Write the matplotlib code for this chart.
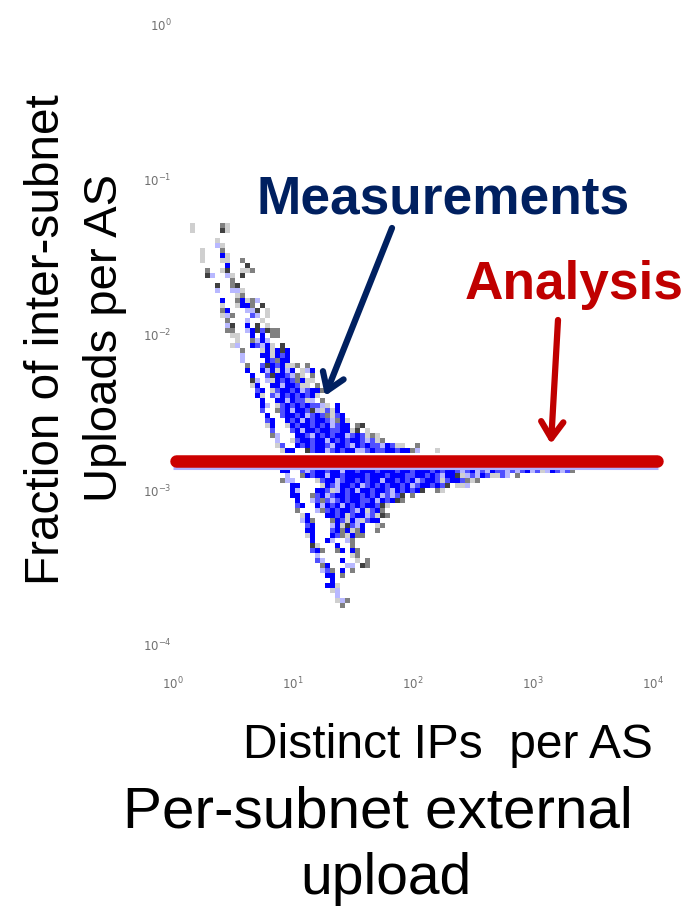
import numpy as np
import matplotlib
matplotlib.use("Agg")
import matplotlib.pyplot as plt
from matplotlib.colors import ListedColormap

CELLS_TOP = [
 (0,"S     GS"),(0,"S     KS"),(0,""),(5,"S"),(5,"PS"),(2,"S   G"),(2,"S   BS"),(2,"S   SS  G"),
 (7,"B   K"),(3,"G  SK  SSG"),(3,"KP  PS K"),(8,"G"),(5,"K  GK"),(5,"P  PPS"),(9,"SG"),
 (6,"B  GBSGP"),(6,"S  SBBG K"),(6,"GB   PPK S"),(6,"SPG   LP S"),(7,"G   P  S"),
 (7,"PK  B K S"),(7,"GG  PBKLKGG"),(8,"SS  B B GG"),(9,"S  GPBP"),(8,"SP  BLPBS K"),
]
CELLS_MID = [
 (10,"G   SBSBKB"),(10,"P   BBSBLB"),(10,"P    BLGBB"),(11,"G  LKBLBSSG G"),(11,"B  BPBSBPB SPB"),
 (12,"B  LKBBLPGS G"),(12,"KP PSBLBLGBSS"),(12,"SB  BBPBBLSS G"),(13,"LB SLBBLBPLBBG"),
 (13,"BS LPBLBLBLBS"),(14,"B  BBPBLLSP G"),(14,"BP SLBLBLBLLPS B"),(14,"L  GLBPBBLKPSLSB"),
 (15,"B  LBBLBPLBLGSLB"),(15,"LB  BLBPBLBBLPGBS"),(15,"SB  SBLBBLBLBPLBB GK"),
 (16,"L   LBPBBLBBLLBBSK S"),(16,"GP   BBLPBLBLBBPLBLSGS"),(17,"P  SLBBLBBPBLBLBBLPLSG"),
 (17,"SL  BLBLBBLPBBLPBLBLLPBLSS  G"),(18,"SBB  KLBBPLBLBBPPLBLLBBLBBGP   S"),
 (0,""),(0,""),(0,""),
]
CELLS_LOW = [
 (18,"BB  LPLBBLBBPBBLBBBLBBBLBBLBBBLBLBBLPLBPLPBLLPLPLBPLSPBLPLG"),
 (19,"P  GBLBBPBBLBBBBLBBBLBBBLLBBLBLPBBKSPLPBLSSLP G"),
 (18,"GPP    SLBBPLBBLBLBBPBBLBLBPLBBLSLBBLGSG"),
 (20,"BB    SBLPBBLBPLBLBLBBLBPLBBLBLK SSP"),
 (20,"BP   BBLSPBLBPBBLBBLPBLBLBK  GS"),
 (20,"BB  GLBPLBBLBBLBLBPLPLK G"),
 (21,"B  PLGLPLBLBBLLBPBLBKG"),
 (21,"LB  BPBLBPBLBLBBLKS"),
 (21,"G   PGLBLBBLPBSLBG"),
 (22,"SB   BBLBSLBBPLSKG"),
 (22,"PBG   GBLSBPSLBB"),
 (23,"LB   PBSKLPB  SG"),
 (23,"BB   LBGBSGB  G"),
 (23,"SB   BLGSBGG"),
 (24,"B  BP  PG"),
 (24,"KS   B  G"),
 (24,"LBG  GB BG"),
 (25,"P      SG"),
 (25,"LP   B  S G"),
 (26,"GB   PP KG"),
 (26,"PLG B G"),
 (27,"BB G"),
 (28,"B"),
 (27,"BBS"),
 (28,"SP"),
 (29,"P"),
 (29,"SPG"),
 (30,"G"),
]
SHADES = " SPLBGK"
SHADE_COLORS = ["#ffffff", "#cfcfcf", "#b8b8ff", "#5050ff", "#0000ff", "#808080", "#404040"]

ANALYSIS_X = [1.06, 10800]
PALE_X = [1, 11000]
ANALYSIS_LOGY = -2.81
X_TICKS = [1, 10, 100, 1000, 10000]
X_TICK_LABELS = [r"$10^{0}$", r"$10^{1}$", r"$10^{2}$", r"$10^{3}$", r"$10^{4}$"]
Y_TICKS = [1, 0.1, 0.01, 0.001, 0.0001]
Y_TICK_LABELS = [r"$10^{0}$", r"$10^{-1}$", r"$10^{-2}$", r"$10^{-3}$", r"$10^{-4}$"]

W, H = 696, 906
plt.rcParams["font.family"] = ["Liberation Sans", "DejaVu Sans"]
plt.rcParams["mathtext.fontset"] = "dejavusans"
fig = plt.figure(figsize=(W / 100, H / 100), dpi=100, facecolor="white")

def fx(p): return p / W
def fy(p): return 1 - p / H

# axes: 10^0..10^4 across px 173..653, 10^0..10^-4 across px 25..645
ax = fig.add_axes([fx(173), fy(645), (653 - 173) / W, (645 - 25) / H])
ax.set_xscale("log"); ax.set_yscale("log")
ax.set_xlim(1, 1e4); ax.set_ylim(1e-4, 1)
ax.patch.set_alpha(0)
for s in ax.spines.values():
    s.set_visible(False)
ax.minorticks_off()
ax.set_xticks(X_TICKS, X_TICK_LABELS, fontsize=8.5, color="#707070")
ax.set_yticks(Y_TICKS, Y_TICK_LABELS, fontsize=8.5, color="#707070")
ax.tick_params(axis="both", length=0)
ax.tick_params(axis="x", pad=22)
ax.tick_params(axis="y", pad=1)

rows = CELLS_TOP + CELLS_MID + CELLS_LOW
ncol = 80
grid = np.zeros((len(rows), ncol), dtype=int)
for r, (start, cells) in enumerate(rows):
    for i, ch in enumerate(cells):
        if start + i < ncol:
            grid[r, start + i] = SHADES.index(ch)
dx = 5 / 120; dy = 5 / 155
x_log0 = (190 - 173) / 120
y_log0 = -3 + (490 - 223) / 155
xe = 10 ** (x_log0 + dx * np.arange(ncol + 1))
ye = 10 ** (y_log0 - dy * np.arange(len(rows) + 1))
ax.pcolormesh(xe, ye, np.ma.masked_equal(grid, 0), cmap=ListedColormap(SHADE_COLORS),
              vmin=-0.5, vmax=6.5, shading="flat", zorder=2)

ax.plot(PALE_X, [10 ** (ANALYSIS_LOGY - 7 / 155)] * 2, color="#b0b0ff", lw=2.2, zorder=3,
        solid_capstyle="butt", clip_on=False)
ax.plot(ANALYSIS_X, [10 ** ANALYSIS_LOGY] * 2, color="#cc0000", lw=9, zorder=4,
        solid_capstyle="round", clip_on=False)

def txt(x, y, s, size, **kw):
    fig.text(fx(x), fy(y), s, fontsize=size, ha="center", va="center", **kw)

txt(47, 340, "Fraction of inter-subnet", 34.4, rotation=90, color="black")
txt(105, 338, "Uploads per AS", 34, rotation=90, color="black")
txt(448, 746, "Distinct IPs  per AS", 34.5, color="black")
txt(378, 812, "Per-subnet external", 42, color="black")
txt(386, 879, "upload", 41, color="black")
txt(443, 199, "Measurements", 38.3, color="#002060", fontweight="bold")
txt(574, 285, "Analysis", 38.3, color="#c00000", fontweight="bold")

def arrow(x0, y0, x1, y1, c):
    fig.add_artist(matplotlib.patches.FancyArrowPatch(
        (fx(x0), fy(y0)), (fx(x1), fy(y1)), transform=fig.transFigure,
        arrowstyle="->,head_length=12,head_width=8", lw=4.5, color=c,
        shrinkA=0, shrinkB=0, zorder=6, mutation_scale=1))

arrow(392, 228, 325, 396, "#002060")
arrow(558, 320, 551, 444, "#c00000")

fig.savefig("out.png", dpi=100, facecolor="white")
